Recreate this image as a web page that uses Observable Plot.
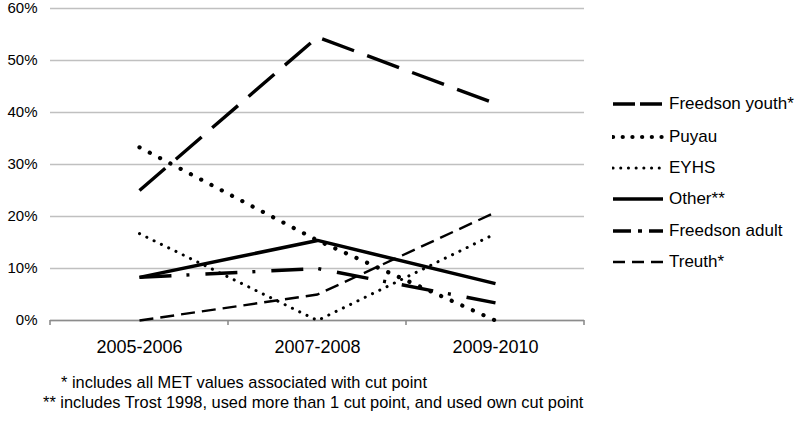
<!DOCTYPE html>
<html>
<head>
<meta charset="utf-8">
<script src="https://cdn.jsdelivr.net/npm/d3@7"></script>
<script src="https://cdn.jsdelivr.net/npm/@observablehq/plot@0.6"></script>
<style>
  html, body { margin: 0; padding: 0; background: #fff; }
  #wrap { position: relative; width: 800px; height: 431px; font-family: "Liberation Sans", Arial, sans-serif; color: #000; }
  #chart { position: absolute; left: 0; top: 0; }
  .legend { position: absolute; left: 612px; top: 0; }
  .legend .item { position: absolute; left: 0; height: 20px; display: flex; align-items: center; white-space: nowrap; font-size: 17px; }
  .legend svg { display: block; margin-right: 5px; }
  .note { position: absolute; font-size: 16.4px; white-space: nowrap; }
</style>
</head>
<body>
<div id="wrap">
  <div id="chart"></div>
  <div class="legend" id="legend"></div>
  <div class="note" style="left:61px; top:373px;">* includes all MET values associated with cut point</div>
  <div class="note" style="left:43px; top:393px;">** includes Trost 1998, used more than 1 cut point, and used own cut point</div>
</div>
<script>
const periods = ["2005-2006", "2007-2008", "2009-2010"];
const seriesNames = ["Freedson youth*", "Puyau", "EYHS", "Other**", "Freedson adult", "Treuth*"];
const freedsonYouth = [0.25, 0.545, 0.417];
const puyau = [0.333, 0.154, 0.0];
const eyhs = [0.167, 0.0, 0.167];
const other = [0.083, 0.154, 0.071];
const freedsonAdult = [0.083, 0.10, 0.034];
const treuth = [0.0, 0.05, 0.208];
const yTicks = [0, 0.1, 0.2, 0.3, 0.4, 0.5, 0.6];

const seriesValues = [freedsonYouth, puyau, eyhs, other, freedsonAdult, treuth];
const styles = [
  {strokeWidth: 3.4, strokeDasharray: "34 14", strokeLinecap: "butt", legendDash: "22 5", legendWidth: 3.4},
  {strokeWidth: 4.2, strokeDasharray: "0.1 11.5", strokeLinecap: "round", legendDash: "0.1 9.6", legendWidth: 4.2},
  {strokeWidth: 3, strokeDasharray: "0.1 8", strokeLinecap: "round", legendDash: "0.1 7.6", legendWidth: 3},
  {strokeWidth: 3.5, strokeDasharray: null, strokeLinecap: "butt", legendDash: null, legendWidth: 3.5},
  {strokeWidth: 3.4, strokeDasharray: "32 15 3 16", strokeLinecap: "butt", legendDash: "18 7 4 7", legendWidth: 3.4},
  {strokeWidth: 2.4, strokeDasharray: "14 7", strokeLinecap: "butt", legendDash: "12 7", legendWidth: 2.4}
];

const rows = [];
seriesNames.forEach((name, i) => {
  periods.forEach((p, j) => rows.push({series: name, period: p, value: seriesValues[i][j]}));
});

const lineMarks = seriesNames.map((name, i) => Plot.line(rows.filter(d => d.series === name), {
  x: "period", y: "value", stroke: "black",
  strokeWidth: styles[i].strokeWidth,
  strokeDasharray: styles[i].strokeDasharray || undefined,
  strokeLinecap: styles[i].strokeLinecap,
  strokeLinejoin: "round"
}));

const chart = Plot.plot({
  width: 800,
  height: 360,
  marginTop: 8,
  marginBottom: 40,
  marginLeft: 50,
  marginRight: 216,
  style: {fontFamily: "'Liberation Sans', Arial, sans-serif", background: "#fff", color: "#000"},
  x: {type: "point", domain: periods, padding: 0.5, label: null},
  y: {domain: [0, 0.6], label: null},
  marks: [
    Plot.gridY(yTicks, {stroke: "#c0c0c0", strokeOpacity: 1, strokeWidth: 1.5}),
    Plot.ruleY([0], {stroke: "#8c8c8c", strokeWidth: 1.6}),
    Plot.axisY(yTicks, {tickSize: 0, tickPadding: 13, tickFormat: d3.format(".0%"), fontSize: 15, label: null}),
    Plot.axisX(periods, {tickSize: 0, tickPadding: 20, fontSize: 18, label: null}),
    ...lineMarks
  ]
});
document.getElementById("chart").appendChild(chart);

// tick marks at category boundaries, from the x scale
const xs = chart.scale("x");
const ys = chart.scale("y");
const step = xs.apply(periods[1]) - xs.apply(periods[0]);
const bounds = periods.map(p => xs.apply(p) - step / 2).concat([xs.apply(periods[periods.length - 1]) + step / 2]);
const y0 = ys.apply(0);
d3.select(chart).append("g").selectAll("line").data(bounds).join("line")
  .attr("x1", d => d).attr("x2", d => d)
  .attr("y1", y0).attr("y2", y0 + 5)
  .attr("stroke", "#8c8c8c").attr("stroke-width", 1.6);

// legend
const legendTops = [104, 137, 168, 199, 231, 262];
const legend = d3.select("#legend");
seriesNames.forEach((name, i) => {
  const item = legend.append("div").attr("class", "item").style("top", (legendTops[i] - 10) + "px");
  const s = item.append("svg").attr("width", 52).attr("height", 20);
  s.append("line").attr("x1", 1).attr("x2", 51).attr("y1", 10).attr("y2", 10)
    .attr("stroke", "black").attr("stroke-width", styles[i].legendWidth)
    .attr("stroke-dasharray", styles[i].legendDash)
    .attr("stroke-linecap", styles[i].strokeLinecap);
  item.append("span").text(name);
});
</script>
</body>
</html>
